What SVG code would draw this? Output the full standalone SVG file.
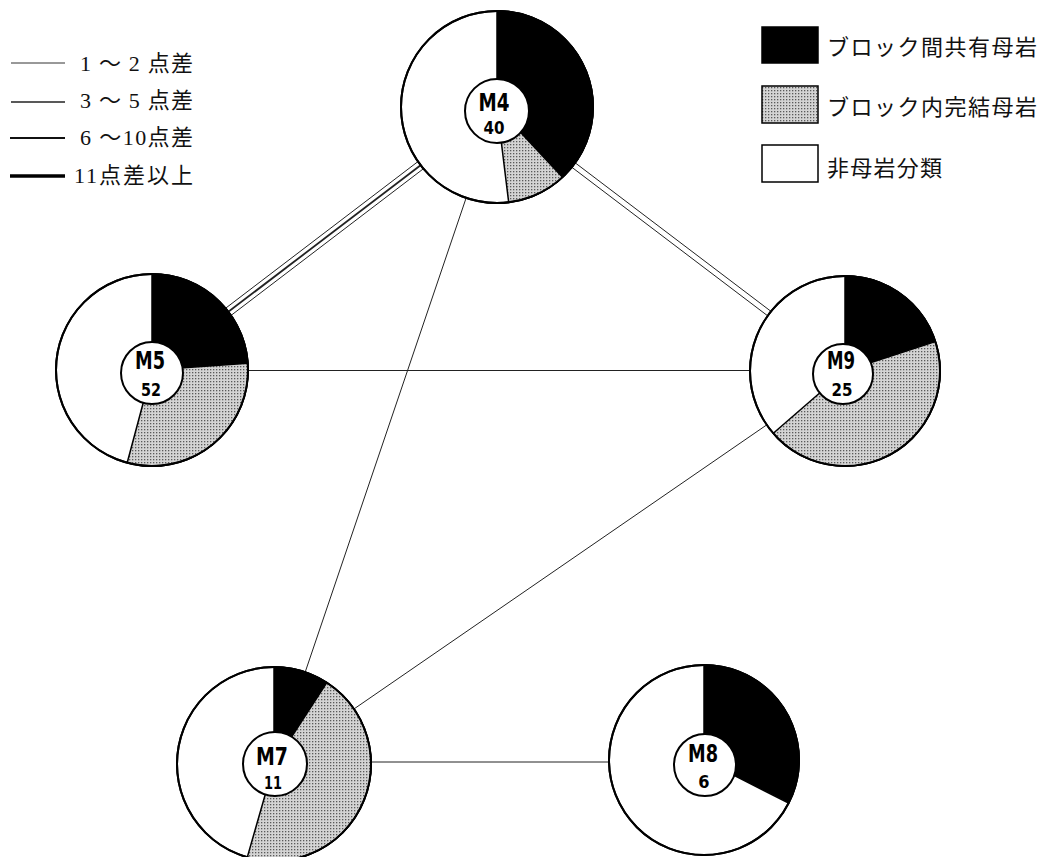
<svg xmlns="http://www.w3.org/2000/svg" width="1047" height="857" viewBox="0 0 1047 857">
<defs>
<pattern id="dots" width="3" height="3" patternUnits="userSpaceOnUse">
<rect width="3" height="3" fill="#d4d4d4"/>
<rect width="1.3" height="1.3" fill="#5a5a5a"/>
</pattern>
</defs>
<style>
.pie{fill:#fff;stroke:#000;stroke-width:2}
.blk{fill:#000;stroke:#000;stroke-width:1.5;stroke-linejoin:round}
.gry{fill:url(#dots);stroke:#000;stroke-width:1.5;stroke-linejoin:round}
.inn{fill:#fff;stroke:#000;stroke-width:2}
.nm{font-family:"DejaVu Sans Condensed","DejaVu Sans",sans-serif;font-weight:bold;font-size:25px;text-anchor:middle}
.nu{font-family:"DejaVu Sans Condensed","DejaVu Sans",sans-serif;font-weight:bold;font-size:18px;text-anchor:middle}
.con{stroke:#222;stroke-width:1;fill:none}
.lg{font-family:"Liberation Serif","Noto Sans CJK JP",serif;font-size:22px;fill:#111}
.lgr{font-family:"Liberation Serif","Noto Sans CJK JP",serif;font-size:22px;fill:#111}
</style>
<rect width="1047" height="857" fill="#fff"/>

<g id="connectors">
<line class="con" x1="499.7" y1="110.6" x2="154.7" y2="373.6"/>
<line class="con" x1="497" y1="107" x2="152" y2="370" style="stroke-width:1.8"/>
<line class="con" x1="494.3" y1="103.4" x2="149.3" y2="366.4"/>
<line class="con" x1="498.7" y1="104.8" x2="846.7" y2="368.8"/>
<line class="con" x1="495.3" y1="109.2" x2="843.3" y2="373.2"/>
<line class="con" x1="497" y1="107" x2="274" y2="764"/>
<line class="con" x1="152" y1="370.5" x2="845" y2="370.5"/>
<line class="con" x1="845" y1="371" x2="274" y2="764"/>
<line class="con" x1="274" y1="762" x2="704" y2="762"/>
</g>

<g id="M4">
<circle class="pie" cx="497" cy="107" r="96"/>
<path class="blk" d="M497,107 L497,11 A96,96 0 0 1 562.5,177.2 Z"/>
<path class="gry" d="M497,107 L562.5,177.2 A96,96 0 0 1 508.7,202.3 Z"/>
<circle cx="497" cy="107" r="96" fill="none" stroke="#000" stroke-width="2"/>
<circle class="inn" cx="497" cy="111" r="32"/>
<text class="nm" x="494" y="111" textLength="31" lengthAdjust="spacingAndGlyphs">M4</text>
<text class="nu" x="494" y="134" textLength="21" lengthAdjust="spacingAndGlyphs">40</text>
</g>

<g id="M5">
<circle class="pie" cx="152" cy="370" r="96"/>
<path class="blk" d="M152,370 L152,274 A96,96 0 0 1 247.8,363.3 Z"/>
<path class="gry" d="M152,370 L247.8,363.3 A96,96 0 0 1 127.2,462.7 Z"/>
<circle cx="152" cy="370" r="96" fill="none" stroke="#000" stroke-width="2"/>
<circle class="inn" cx="152" cy="373" r="31"/>
<text class="nm" x="150" y="369" textLength="30" lengthAdjust="spacingAndGlyphs">M5</text>
<text class="nu" x="151" y="396" textLength="20" lengthAdjust="spacingAndGlyphs">52</text>
</g>

<g id="M9">
<circle class="pie" cx="845" cy="371" r="95"/>
<path class="blk" d="M845,371 L845,276 A95,95 0 0 1 935.3,341.6 Z"/>
<path class="gry" d="M845,371 L935.3,341.6 A95,95 0 0 1 773.3,433.3 Z"/>
<circle cx="845" cy="371" r="95" fill="none" stroke="#000" stroke-width="2"/>
<circle class="inn" cx="843" cy="374" r="30"/>
<text class="nm" x="841" y="369" textLength="28" lengthAdjust="spacingAndGlyphs">M9</text>
<text class="nu" x="842" y="396" textLength="21" lengthAdjust="spacingAndGlyphs">25</text>
</g>

<g id="M7">
<circle class="pie" cx="274" cy="764" r="97"/>
<path class="blk" d="M274,764 L274,667 A97,97 0 0 1 326.8,682.6 Z"/>
<path class="gry" d="M274,764 L326.8,682.6 A97,97 0 0 1 247.3,857.2 Z"/>
<circle cx="274" cy="764" r="97" fill="none" stroke="#000" stroke-width="2"/>
<circle class="inn" cx="275" cy="764" r="32"/>
<text class="nm" x="272" y="765" textLength="32" lengthAdjust="spacingAndGlyphs">M7</text>
<text class="nu" x="273" y="789" textLength="18" lengthAdjust="spacingAndGlyphs">11</text>
</g>

<g id="M8">
<circle class="pie" cx="704" cy="760" r="95"/>
<path class="blk" d="M704,760 L704,665 A95,95 0 0 1 788.6,803.1 Z"/>
<circle cx="704" cy="760" r="95" fill="none" stroke="#000" stroke-width="2"/>
<circle class="inn" cx="705" cy="765" r="31"/>
<text class="nm" x="703" y="762" textLength="30" lengthAdjust="spacingAndGlyphs">M8</text>
<text class="nu" x="704" y="788">6</text>
</g>

<g id="legend-lines">
<line x1="11" y1="63" x2="65" y2="63" stroke="#333" stroke-width="1"/>
<line x1="11" y1="102" x2="65" y2="102" stroke="#222" stroke-width="1.3"/>
<line x1="10" y1="138" x2="65" y2="138" stroke="#111" stroke-width="2"/>
<line x1="10" y1="176" x2="65" y2="176" stroke="#000" stroke-width="3.5"/>
<text class="lg" x="80" y="71" textLength="113" lengthAdjust="spacing">1 ～ 2 点差</text>
<text class="lg" x="80" y="108" textLength="113" lengthAdjust="spacing">3 ～ 5 点差</text>
<text class="lg" x="80" y="145" textLength="113" lengthAdjust="spacing">6 ～10点差</text>
<text class="lg" x="74" y="183" textLength="119" lengthAdjust="spacing">11点差以上</text>
</g>

<g id="legend-fills">
<rect x="762" y="27" width="56" height="36" fill="#000" stroke="#000" stroke-width="1.5"/>
<rect x="762" y="86" width="56" height="37" fill="url(#dots)" stroke="#000" stroke-width="1.5"/>
<rect x="762" y="145" width="56" height="37" fill="#fff" stroke="#000" stroke-width="1.5"/>
<text class="lgr" x="827" y="55" textLength="210" lengthAdjust="spacing">ブロック間共有母岩</text>
<text class="lgr" x="827" y="115" textLength="210" lengthAdjust="spacing">ブロック内完結母岩</text>
<text class="lgr" x="827" y="176" textLength="115" lengthAdjust="spacing">非母岩分類</text>
</g>
</svg>
